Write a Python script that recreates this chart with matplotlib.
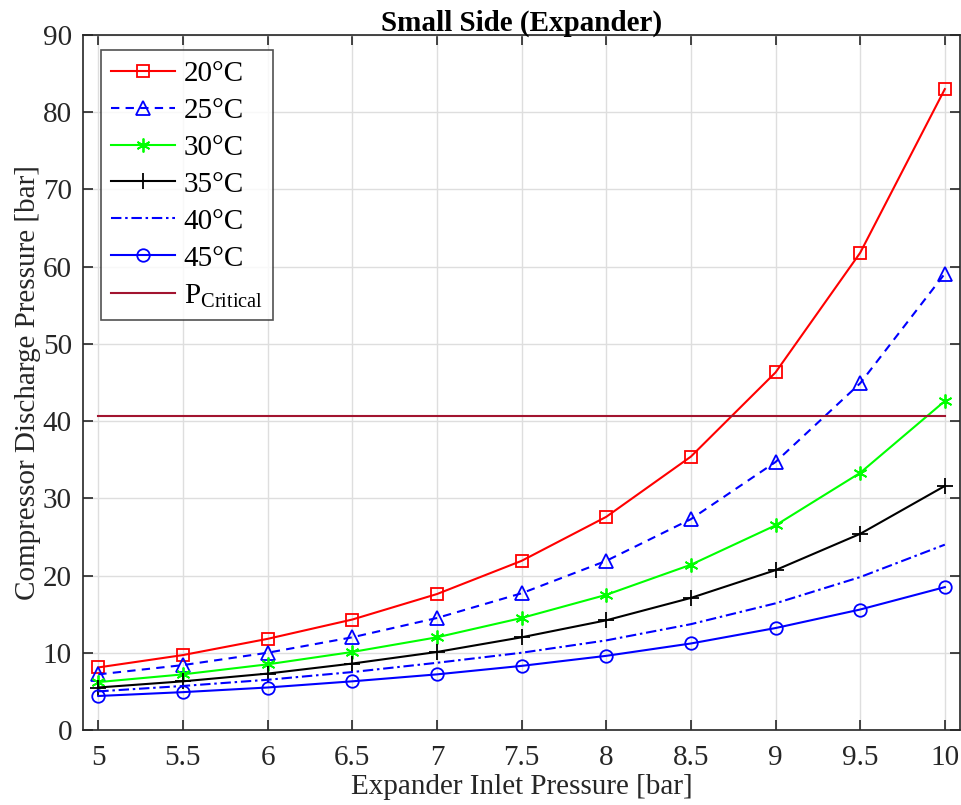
import matplotlib
matplotlib.use("Agg")
import matplotlib.pyplot as plt

plt.rcParams['font.family'] = ['Liberation Serif', 'DejaVu Serif']
plt.rcParams['mathtext.fontset'] = 'custom'
plt.rcParams['mathtext.rm'] = 'Liberation Serif'

x = [5, 5.5, 6, 6.5, 7, 7.5, 8, 8.5, 9, 9.5, 10]
t20 = [8.1, 9.7, 11.8, 14.3, 17.6, 21.9, 27.6, 35.4, 46.3, 61.8, 83.0]
t25 = [7.2, 8.4, 10.0, 12.0, 14.5, 17.7, 21.9, 27.3, 34.7, 44.9, 59.1]
t30 = [6.2, 7.2, 8.5, 10.1, 12.0, 14.5, 17.5, 21.4, 26.5, 33.3, 42.6]
t35 = [5.5, 6.3, 7.3, 8.6, 10.1, 12.0, 14.2, 17.1, 20.7, 25.4, 31.6]
t40 = [5.0, 5.7, 6.5, 7.5, 8.7, 10.0, 11.6, 13.7, 16.4, 19.8, 24.0]
t45 = [4.4, 4.9, 5.5, 6.3, 7.2, 8.3, 9.6, 11.2, 13.2, 15.6, 18.5]
p_critical = 40.6
xticks = [5, 5.5, 6, 6.5, 7, 7.5, 8, 8.5, 9, 9.5, 10]
xticklabels = ['5', '5.5', '6', '6.5', '7', '7.5', '8', '8.5', '9', '9.5', '10']
yticks = [0, 10, 20, 30, 40, 50, 60, 70, 80, 90]

fig = plt.figure(figsize=(9.62, 8.05), dpi=100)
ax = fig.add_axes([0.0863, 0.0932, 0.9117, 0.8633])

lw = 1.5
ax.plot(x, t20, color='#FF0000', ls='-', marker='s', mfc='none', ms=8, mew=1.3, lw=lw, label='20°C')
ax.plot(x, t25, color='#0000FF', ls=(0, (4, 3)), marker='^', mfc='none', ms=9.5, mew=1.3, lw=lw, label='25°C')
ax.plot(x, t30, color='#00FF00', ls='-', marker=(6, 2, 0), ms=10, mew=1.3, lw=lw, label='30°C')
ax.plot(x, t35, color='#000000', ls='-', marker='+', ms=11, mew=1.3, lw=lw, label='35°C')
ax.plot(x, t40, color='#0000FF', ls=(0, (5, 1.8, 1.2, 1.8)), lw=lw, label='40°C')
ax.plot(x, t45, color='#0000FF', ls='-', marker='o', mfc='none', ms=9, mew=1.3, lw=lw, label='45°C')
ax.plot([x[0], x[-1]], [p_critical, p_critical], color='#A2142F', ls='-', lw=lw, label=r'P$_{\mathrm{Critical}}$')

ax.set_xlim(4.91, 10.09)
ax.set_ylim(0, 90)
ax.set_xticks(xticks)
ax.set_xticklabels(xticklabels)
ax.set_yticks(yticks)
ax.grid(True, color='#DEDEDE', lw=1.0)
ax.set_axisbelow(True)
ax.tick_params(direction='in', top=True, right=True, length=7, width=1.2, labelsize=21, colors='#262626')
ax.tick_params(axis='x', pad=11)
ax.tick_params(axis='y', pad=8)
for s in ax.spines.values():
    s.set_color('#262626')
    s.set_linewidth(1.2)

ax.set_xlabel('Expander Inlet Pressure [bar]', fontsize=21, color='#262626', labelpad=2)
ax.set_ylabel('Compressor Discharge Pressure [bar]', fontsize=21, color='#262626', labelpad=1)
ax.set_title('Small Side (Expander)', fontsize=21, fontweight='bold', pad=3)

leg = ax.legend(loc='upper left', fontsize=21, frameon=True, fancybox=False, edgecolor='#262626',
                handlelength=2.2, labelspacing=0.36, borderpad=0.35, handletextpad=0.3,
                borderaxespad=0.0, bbox_to_anchor=(0.02, 0.978))
leg.get_frame().set_linewidth(1.2)

fig.savefig('out.png', dpi=100)
